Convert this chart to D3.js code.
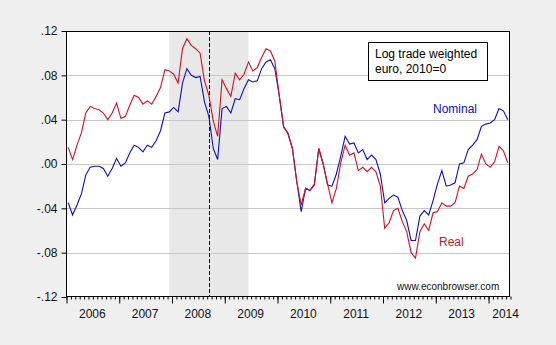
<!DOCTYPE html>
<html><head><meta charset="utf-8">
<script src="https://cdn.jsdelivr.net/npm/d3@7"></script>
<style>
html,body{margin:0;padding:0;background:#efefef;}
svg{display:block;font-family:"Liberation Sans",Arial,sans-serif;}
</style></head>
<body><svg id="c" width="556" height="345"></svg>
<script>
// Monthly data, 2006M01 .. 2014M05 (index 0 = Jan 2006)
const startYear = 2006;
const yearLabels = ["2006","2007","2008","2009","2010","2011","2012","2013","2014"];
const yTicks = [-0.12,-0.08,-0.04,0,0.04,0.08,0.12];
const nominal = [
-0.035,-0.046,-0.037,-0.027,-0.010,-0.003,-0.002,-0.002,-0.004,-0.011,-0.004,0.005,
-0.002,0.001,0.010,0.017,0.015,0.011,0.017,0.015,0.021,0.030,0.046,0.047,
0.051,0.047,0.073,0.086,0.080,0.078,0.079,0.056,0.043,0.014,0.004,0.050,
0.052,0.046,0.059,0.058,0.068,0.076,0.074,0.075,0.086,0.092,0.094,0.086,
0.062,0.034,0.027,0.014,-0.016,-0.043,-0.022,-0.024,-0.018,0.014,0.000,-0.019,
-0.020,-0.009,0.007,0.025,0.018,0.019,0.010,0.013,0.004,0.008,0.004,-0.009,
-0.035,-0.031,-0.028,-0.030,-0.042,-0.051,-0.069,-0.069,-0.047,-0.042,-0.046,-0.033,
-0.018,-0.006,-0.020,-0.019,-0.017,0.000,0.001,0.013,0.017,0.022,0.034,0.036,
0.037,0.040,0.050,0.048,0.040];
const real = [
0.015,0.004,0.017,0.028,0.046,0.052,0.050,0.049,0.046,0.040,0.046,0.055,
0.041,0.043,0.053,0.062,0.060,0.054,0.057,0.054,0.061,0.069,0.085,0.084,
0.081,0.073,0.104,0.113,0.107,0.104,0.100,0.075,0.062,0.039,0.025,0.076,
0.068,0.061,0.082,0.076,0.081,0.092,0.084,0.087,0.096,0.104,0.102,0.093,
0.062,0.033,0.028,0.014,-0.016,-0.037,-0.022,-0.024,-0.019,0.014,0.000,-0.018,
-0.035,-0.022,0.001,0.017,0.008,0.010,-0.006,-0.003,-0.007,-0.003,-0.007,-0.020,
-0.058,-0.053,-0.042,-0.040,-0.052,-0.061,-0.080,-0.085,-0.061,-0.054,-0.060,-0.044,
-0.043,-0.035,-0.038,-0.038,-0.035,-0.020,-0.022,-0.011,-0.009,-0.005,0.009,0.000,
-0.003,0.002,0.016,0.012,0.001];
// recession shading (month index, 2007M12 .. 2009M06) and Lehman line (2008M09)
const shadeMonths = [23, 41];
const eventMonth = 32;

const svg = d3.select("#c");
const L = 66, R = 510, T = 31, B = 297;
const nMonths = nominal.length;
const x = d3.scaleLinear().domain([0, nMonths]).range([L, R]);
const y = d3.scaleLinear().domain([-0.12, 0.12]).range([B, T]);
const xc = i => x(i + 0.5);

svg.append("rect").attr("x", L).attr("y", T).attr("width", R - L).attr("height", B - T).attr("fill", "#fff");
svg.append("rect").attr("x", xc(shadeMonths[0])).attr("y", T)
  .attr("width", xc(shadeMonths[1]) - xc(shadeMonths[0])).attr("height", B - T).attr("fill", "#e8e8e8");

// grid
svg.append("g").selectAll("line").data(yTicks.filter(v => Math.abs(v) < 0.11)).join("line")
  .attr("x1", L).attr("x2", R).attr("y1", d => Math.round(y(d)) + 0.5).attr("y2", d => Math.round(y(d)) + 0.5)
  .attr("stroke", "#c8c8c8").attr("stroke-width", 1);

// event line
svg.append("line").attr("x1", Math.round(xc(eventMonth)) + 0.5).attr("x2", Math.round(xc(eventMonth)) + 0.5)
  .attr("y1", T).attr("y2", B).attr("stroke", "#000").attr("stroke-width", 1).attr("stroke-dasharray", "4,2");

const line = d3.line().x((d, i) => xc(i)).y(d => y(d));
svg.append("path").datum(nominal).attr("d", line).attr("fill", "none").attr("stroke", "#1010b8").attr("stroke-width", 1.1);
svg.append("path").datum(real).attr("d", line).attr("fill", "none").attr("stroke", "#d0102a").attr("stroke-width", 1.1);

// frame
svg.append("rect").attr("x", L + 0.5).attr("y", T + 0.5).attr("width", R - L - 1).attr("height", B - T - 1)
  .attr("fill", "none").attr("stroke", "#000");

// y axis
const fmt = v => { if (Math.abs(v) < 1e-9) return ".00"; const s = d3.format(".2f")(Math.abs(v)).replace(/^0/, ""); return (v < 0 ? "-" : "") + s; };
const yAx = svg.append("g").attr("transform", `translate(${L + 0.5},0)`)
  .call(d3.axisLeft(y).tickValues(yTicks).tickSize(5).tickPadding(4).tickFormat(fmt));
yAx.select(".domain").remove();
yAx.selectAll("line").attr("stroke", "#000");
yAx.selectAll("text").attr("font-size", 12).attr("fill", "#111").attr("font-family", "Liberation Sans, Arial, sans-serif");

// x axis: monthly minor ticks, yearly major ticks
const xMinor = svg.append("g").attr("transform", `translate(0.5,${B - 0.5})`)
  .call(d3.axisBottom(x).tickValues(d3.range(0, nMonths + 1)).tickSize(3).tickFormat(""));
xMinor.select(".domain").remove();
xMinor.selectAll("line").attr("stroke", "#000");
const xMajor = svg.append("g").attr("transform", `translate(0.5,${B - 0.5})`)
  .call(d3.axisBottom(x).tickValues(d3.range(0, nMonths, 12)).tickSize(7).tickFormat(""));
xMajor.select(".domain").remove();
xMajor.selectAll("line").attr("stroke", "#000");

svg.append("g").selectAll("text").data(yearLabels).join("text")
  .attr("x", (d, k) => k < yearLabels.length - 1 ? x(k * 12 + 6) : x(nMonths - 1))
  .attr("y", 318).attr("text-anchor", "middle").attr("font-size", 12).attr("fill", "#111").text(d => d);

// legend box
svg.append("rect").attr("x", 368.5).attr("y", 42.5).attr("width", 119).attr("height", 38)
  .attr("fill", "#fff").attr("stroke", "#000");
svg.append("text").attr("x", 375).attr("y", 57.5).attr("font-size", 12).attr("fill", "#000").text("Log trade weighted");
svg.append("text").attr("x", 375).attr("y", 72.5).attr("font-size", 12).attr("fill", "#000").text("euro, 2010=0");

svg.append("text").attr("x", 433).attr("y", 112.5).attr("font-size", 12).attr("fill", "#1010b8").text("Nominal");
svg.append("text").attr("x", 439).attr("y", 246).attr("font-size", 12).attr("fill", "#d0102a").text("Real");
svg.append("text").attr("x", 397).attr("y", 289.5).attr("font-size", 10).attr("fill", "#111").text("www.econbrowser.com");
</script></body></html>
